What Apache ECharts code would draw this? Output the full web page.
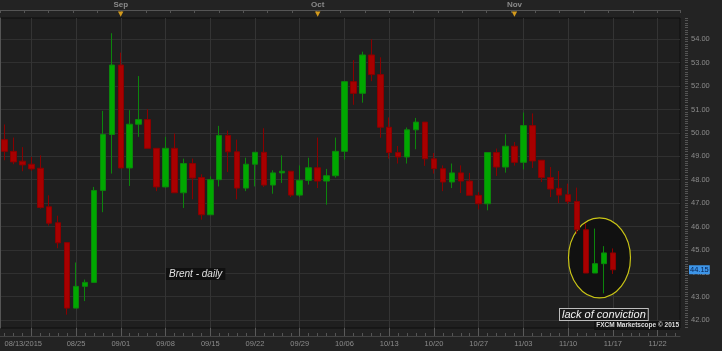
<!DOCTYPE html>
<html><head><meta charset="utf-8">
<script src="https://cdn.jsdelivr.net/npm/echarts@6/dist/echarts.min.js"></script>
<style>html,body{margin:0;padding:0;background:#232323;}#c{width:722px;height:351px;}</style>
</head><body><div id="c"></div>
<script>
const categories = ['08/13','08/14','08/17','08/18','08/19','08/20','08/21','08/24','08/25','08/26','08/27','08/28','08/31',
'09/01','09/02','09/03','09/04','09/07','09/08','09/09','09/10','09/11','09/14','09/15','09/16','09/17','09/18','09/21','09/22','09/23','09/24','09/25','09/28','09/29','09/30',
'10/01','10/02','10/05','10/06','10/07','10/08','10/09','10/12','10/13','10/14','10/15','10/16','10/19','10/20','10/21','10/22','10/23','10/26','10/27','10/28','10/29','10/30',
'11/02','11/03','11/04','11/05','11/06','11/09','11/10','11/11','11/12','11/13','11/16','11/17',
'11/18','11/19','11/20','11/23','11/24','11/25','11/26'];
const openP  = [49.71,49.21,48.79,48.66,48.49,46.84,46.16,45.31,42.51,43.44,43.61,47.54,49.93,52.90,48.50,50.37,50.57,49.34,47.69,49.34,47.44,48.69,48.09,46.50,48.00,49.89,49.19,47.64,48.66,49.17,47.77,48.29,48.36,47.34,47.97,48.51,47.94,48.17,49.21,52.19,51.69,53.33,52.49,50.24,49.16,48.97,50.13,50.46,48.89,48.47,47.90,48.29,47.94,47.33,46.97,49.16,48.54,49.43,48.74,50.31,48.83,48.09,47.63,47.36,47.07,45.86,44.01,44.41,44.87];
const closeP = [49.21,48.76,48.63,48.46,46.81,46.14,45.30,42.51,43.44,43.61,47.54,49.93,52.90,48.50,50.37,50.57,49.34,47.69,49.34,47.44,48.69,48.07,46.50,48.00,49.89,49.19,47.64,48.66,49.17,47.77,48.29,48.36,47.34,47.97,48.51,47.94,48.17,49.21,52.19,51.69,53.33,52.49,50.24,49.16,48.97,50.13,50.46,48.89,48.47,47.90,48.29,47.94,47.33,46.97,49.16,48.54,49.43,48.74,50.31,48.80,48.09,47.60,47.34,47.07,45.86,44.01,44.41,44.87,44.15];
const lowP   = [48.83,48.66,48.36,48.38,46.76,46.04,45.07,42.23,42.51,42.81,43.61,46.61,48.26,48.50,47.73,49.83,49.34,47.51,47.66,47.44,46.79,47.16,46.29,46.50,47.71,48.33,47.16,47.51,47.71,47.69,47.40,47.86,47.26,47.26,47.79,47.64,46.93,48.09,48.86,51.20,51.29,52.21,49.79,48.90,48.69,48.69,49.30,48.59,48.26,47.51,47.64,47.43,47.33,46.73,46.69,48.16,48.30,48.60,48.44,48.50,47.90,47.26,47.00,46.97,45.69,44.01,44.01,43.14,43.97];
const highP  = [50.36,49.80,49.39,48.97,49.04,47.33,46.46,45.31,44.46,43.73,47.69,50.94,54.26,53.43,50.97,52.43,51.01,49.34,49.83,49.97,48.90,48.90,48.23,48.14,50.30,50.10,49.71,48.94,49.17,50.20,48.40,49.04,48.36,48.61,48.94,49.80,48.46,49.80,52.19,53.11,53.47,54.00,53.23,50.66,49.44,50.23,50.64,50.46,49.14,48.61,48.69,48.61,48.29,47.47,49.16,49.33,49.94,49.61,50.87,50.83,48.83,48.54,48.37,47.83,47.66,46.14,45.91,45.16,45.06];
const priceTicks = [42,43,44,45,46,47,48,49,50,51,52,53,54];
const labelDates = ['08/13','08/25','09/01','09/08','09/15','09/22','09/29','10/06','10/13','10/20','10/27','11/03','11/10','11/17','11/24'];
const labelTexts = ['08/13/2015','08/25','09/01','09/08','09/15','09/22','09/29','10/06','10/13','10/20','10/27','11/03','11/10','11/17','11/22'];
const gridDates = ['08/18','08/25','09/01','09/08','09/15','09/22','09/29','10/06','10/13','10/20','10/27','11/03','11/10','11/17','11/24'];
const monthDates = ['09/01','10/01','11/02'];
const monthNames = ['Sep','Oct','Nov'];
const lastPrice = 44.15;

const yMin = 41.66, yMax = 54.91;
const minorTicks = [];
for (let v = 417; v <= 549; v++) minorTicks.push(v / 10);

const candleData = openP.map((o, i) => [o, closeP[i], lowP[i], highP[i]]);
const FONT = 'Liberation Sans';

const chart = echarts.init(document.getElementById('c'));
const option = {
  animation: false,
  backgroundColor: '#232323',
  grid: { left: 0, right: 42, top: 18, bottom: 23, show: true, backgroundColor: '#1f1f1f', borderColor: '#0e0e0e', borderWidth: 1 },
  xAxis: [
    { type: 'category', data: categories, position: 'bottom', offset: 8,
      axisLine: { show: true, lineStyle: { color: '#444' } },
      axisTick: { show: true, inside: true, length: 3, interval: 0, alignWithLabel: true, lineStyle: { color: '#555' } },
      axisLabel: { show: false }, splitLine: { show: false } },
    { type: 'category', data: categories, position: 'bottom', offset: 8,
      axisLine: { show: false },
      axisTick: { show: true, inside: true, length: 8, alignWithLabel: true, interval: (i, v) => gridDates.includes(v), lineStyle: { color: '#5a5a5a' } },
      axisLabel: { show: true, interval: (i, v) => labelDates.includes(v), formatter: v => labelTexts[labelDates.indexOf(v)],
        color: '#8c8c8c', fontSize: 7.5, fontFamily: FONT, margin: 4, alignMinLabel: 'left' },
      splitLine: { show: true, alignWithLabel: true, interval: (i, v) => gridDates.includes(v), lineStyle: { color: '#343434' } } },
    { type: 'category', data: categories, position: 'top', offset: 8,
      axisLine: { show: true, lineStyle: { color: '#555' } }, axisTick: { show: false },
      axisLabel: { show: true, interval: (i, v) => monthDates.includes(v), formatter: v => monthNames[monthDates.indexOf(v)],
        color: '#8a8a8a', fontSize: 8, fontWeight: 'bold', fontFamily: FONT, margin: 1 },
      splitLine: { show: false } },
    { type: 'category', data: categories, position: 'top', offset: 8,
      axisLine: { show: false }, axisTick: { show: false },
      axisLabel: { show: true, inside: true, interval: (i, v) => monthDates.includes(v), formatter: () => '▼',
        color: '#d49a1c', fontSize: 7, fontFamily: 'DejaVu Sans', margin: 1 },
      splitLine: { show: false } },
    { type: 'value', position: 'top', offset: 8, min: 0, max: 76, interval: 2.72,
      axisLine: { show: false }, axisTick: { show: true, inside: true, length: 3, lineStyle: { color: '#555' } },
      axisLabel: { show: false }, splitLine: { show: false } }
  ],
  yAxis: [
    { type: 'value', position: 'right', offset: 8, min: yMin, max: yMax,
      axisLine: { show: true, lineStyle: { color: '#555' } },
      axisTick: { show: true, inside: true, length: 8, customValues: priceTicks, lineStyle: { color: '#666' } },
      axisLabel: { show: true, customValues: priceTicks, formatter: v => v.toFixed(2), color: '#8c8c8c', fontSize: 7.5, fontFamily: FONT, margin: 3 },
      splitLine: { show: true, lineStyle: { color: '#303030' } } },
    { type: 'value', position: 'right', offset: 8, min: yMin, max: yMax,
      axisLine: { show: false },
      axisTick: { show: true, inside: true, length: 3, customValues: minorTicks, lineStyle: { color: '#555' } },
      axisLabel: { show: false }, splitLine: { show: false } }
  ],
  series: [{
    type: 'candlestick', xAxisIndex: 0, yAxisIndex: 0, data: candleData, barWidth: 6,
    itemStyle: { color: '#00a800', color0: '#a80000', borderColor: '#0c850c', borderColor0: '#8a0000', borderWidth: 1 },
    markLine: { silent: true, symbol: 'none', data: [{ yAxis: lastPrice }], lineStyle: { color: 'rgba(0,0,0,0)', width: 0 },
      label: { show: true, position: 'end', distance: 9, formatter: lastPrice.toFixed(2), backgroundColor: '#3d95e8',
        color: '#062050', fontSize: 7.5, fontFamily: FONT, padding: [1, 1, 0, 1] } }
  }]
};
chart.setOption(option);

const p1 = chart.convertToPixel({ xAxisIndex: 0, yAxisIndex: 0 }, ['11/13', 44.66]);
const p2 = chart.convertToPixel({ xAxisIndex: 0, yAxisIndex: 0 }, ['11/16', 44.66]);
chart.setOption({
  graphic: [
    { type: 'ellipse', z: 1, shape: { cx: (p1[0] + p2[0]) / 2, cy: p1[1], rx: 31, ry: 40 },
      style: { fill: '#111111', stroke: '#c9c416', lineWidth: 1.2 } },
    { type: 'text', z: 10, left: 166, top: 268,
      style: { text: 'Brent - daily', fill: '#e0e0e0', font: 'italic 10px "Liberation Sans"', backgroundColor: '#101010', padding: [1, 3, 1, 3] } },
    { type: 'text', z: 10, left: 559, top: 308,
      style: { text: 'lack of conviction', fill: '#f2f2f2', font: 'italic 11px "Liberation Sans"', backgroundColor: '#1a1a1a',
        borderColor: '#bdbdbd', borderWidth: 1, padding: [0, 2, 0, 2] } },
    { type: 'text', z: 10, right: 42, top: 321,
      style: { text: 'FXCM Marketscope © 2015', fill: '#dddddd', font: 'bold 6.5px "Liberation Sans"', backgroundColor: '#121212', padding: [1, 1, 1, 2] } }
  ]
});
</script></body></html>
